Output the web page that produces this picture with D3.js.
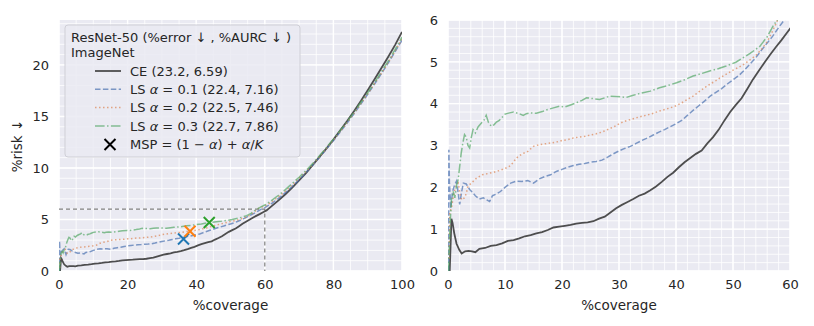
<!DOCTYPE html>
<html><head><meta charset="utf-8">
<script src="https://cdn.jsdelivr.net/npm/d3@7"></script>
<style>
body{margin:0;background:#fff;}
text{font-family:"DejaVu Sans",sans-serif;fill:#262626;}
</style></head>
<body>
<svg id="chart" width="814" height="326"></svg>
<script>
// ---------- DATA ----------
const seriesNames = ["CE (23.2, 6.59)", "LS α = 0.1 (22.4, 7.16)", "LS α = 0.2 (22.5, 7.46)", "LS α = 0.3 (22.7, 7.86)"];
const legendTitle = ["ResNet-50 (%error ↓ , %AURC ↓ )", "ImageNet"];
const leftXTicks = [0, 20, 40, 60, 80, 100];
const leftYTicks = [0, 5, 10, 15, 20];
const rightXTicks = [0, 10, 20, 30, 40, 50, 60];
const rightYTicks = [0, 1, 2, 3, 4, 5, 6];

const ceData = [[0.3,0],[0.45,0.6],[0.6,1.25],[0.8,1.15],[1.1,0.9],[1.5,0.65],[2.0,0.5],[2.4,0.42],[3,0.47],[3.6,0.48],[4.2,0.47],[4.8,0.45],[5.5,0.53],[6.5,0.55],[7.5,0.6],[8.5,0.62],[9.5,0.66],[10.5,0.72],[11.5,0.74],[12.5,0.78],[13.5,0.83],[14.5,0.86],[15.5,0.9],[16.5,0.93],[17.5,0.98],[18.5,1.04],[19.5,1.06],[20.5,1.08],[21.5,1.1],[22.5,1.13],[23.5,1.15],[24.5,1.16],[25.5,1.19],[26.5,1.25],[27.5,1.3],[28.5,1.4],[29.5,1.5],[30.5,1.58],[31.5,1.65],[32.5,1.72],[33.5,1.8],[34.5,1.85],[35.5,1.93],[36.5,2.02],[37.5,2.13],[38.5,2.25],[39.5,2.35],[40.5,2.48],[41.5,2.6],[42.5,2.7],[43.5,2.8],[44.5,2.88],[45.5,3.05],[46.5,3.2],[47.5,3.38],[48.5,3.6],[49.5,3.8],[50.5,3.97],[51.5,4.13],[52.5,4.35],[53.5,4.58],[54.5,4.78],[55.5,4.98],[56.5,5.17],[57.5,5.35],[58.5,5.52],[59.5,5.7],[60.5,5.88],[62,6.3],[64,6.85],[66,7.45],[68,8.1],[70,8.8],[72,9.5],[74,10.3],[76,11.1],[78,11.9],[80,12.75],[82,13.65],[84,14.55],[86,15.5],[88,16.5],[90,17.55],[92,18.6],[94,19.7],[96,20.8],[98,21.95],[100,23.2]];

const ls1Data = [[0.1,0],[0.15,2.9],[0.25,2.1],[0.5,1.5],[0.8,1.9],[1.2,2.07],[1.5,2.15],[1.8,1.85],[2.05,1.59],[2.4,1.9],[2.7,2.1],[3.2,2.08],[3.8,1.95],[4.3,1.88],[4.8,1.8],[5.5,1.72],[6.2,1.75],[6.8,1.7],[7.3,1.66],[7.8,1.8],[8.5,1.84],[9.2,1.9],[10,2.0],[11,2.1],[12,2.15],[13,2.14],[14,2.16],[15,2.1],[16,2.2],[17,2.26],[18,2.3],[19,2.38],[20,2.43],[21,2.48],[22,2.52],[23,2.55],[24,2.57],[25,2.6],[26,2.62],[27,2.65],[28,2.72],[29,2.8],[30,2.87],[31,2.93],[32,2.98],[33,3.05],[34,3.12],[35,3.18],[36,3.25],[37,3.32],[38,3.38],[39,3.45],[40,3.52],[41,3.6],[42,3.72],[43,3.84],[44,3.95],[45,4.06],[46,4.18],[47,4.27],[48,4.36],[49,4.47],[50,4.57],[51,4.67],[52,4.8],[53,4.95],[54,5.1],[55,5.28],[56,5.45],[57,5.62],[58,5.82],[59,6.0],[60,6.15],[62,6.55],[64,7.05],[66,7.6],[68,8.2],[70,8.85],[72,9.55],[74,10.3],[76,11.05],[78,11.85],[80,12.65],[82,13.5],[84,14.35],[86,15.25],[88,16.2],[90,17.15],[92,18.15],[94,19.15],[96,20.2],[98,21.3],[100,22.4]];

const ls2Data = [[0.2,0.3],[0.3,1.4],[0.6,1.5],[0.9,1.75],[1.2,1.95],[1.5,2.05],[1.8,2.1],[2.1,1.85],[2.4,1.7],[2.9,1.75],[3.2,1.85],[3.5,2.03],[4.1,2.1],[5,2.22],[6,2.3],[7,2.33],[8,2.36],[9,2.4],[10,2.45],[11,2.52],[12,2.7],[13,2.8],[14,2.86],[15,2.98],[16,3.02],[17,3.04],[18,3.06],[19,3.08],[20,3.12],[21,3.14],[22,3.18],[23,3.2],[24,3.22],[25,3.25],[26,3.28],[27,3.32],[28,3.38],[29,3.44],[30,3.52],[31,3.58],[32,3.62],[33,3.66],[34,3.7],[35,3.73],[36,3.77],[37,3.82],[38,3.86],[39,3.9],[40,3.95],[41,4.02],[42,4.1],[43,4.18],[44,4.28],[45,4.38],[46,4.47],[47,4.55],[48,4.64],[49,4.72],[50,4.8],[51,4.87],[52,4.95],[53,5.05],[54,5.15],[55,5.3],[56,5.48],[57,5.75],[58,6.05],[59,6.2],[60,6.3],[62,6.7],[64,7.2],[66,7.75],[68,8.35],[70,9.0],[72,9.65],[74,10.35],[76,11.1],[78,11.9],[80,12.7],[82,13.55],[84,14.4],[86,15.3],[88,16.25],[90,17.2],[92,18.2],[94,19.2],[96,20.25],[98,21.35],[100,22.5]];

const ls3Data = [[0.1,0],[0.2,0.45],[0.4,1.2],[0.6,1.7],[0.9,1.9],[1.2,1.75],[1.5,2.05],[1.8,2.2],[2.05,2.5],[2.3,2.8],[2.6,3.06],[2.9,3.26],[3.2,3.2],[3.5,3.0],[3.8,2.94],[4.1,3.2],[4.4,3.38],[4.8,3.3],[5.3,3.45],[5.86,3.54],[6.3,3.6],[6.7,3.72],[7.1,3.55],[7.6,3.46],[8.1,3.5],[8.5,3.56],[9,3.6],[9.4,3.66],[10,3.75],[10.8,3.78],[11.5,3.8],[12.5,3.76],[13.2,3.72],[13.75,3.76],[14.5,3.78],[15.5,3.77],[16.7,3.82],[17.5,3.86],[18.5,3.9],[19.6,3.94],[20.5,3.92],[21.5,3.97],[22.5,4.02],[23.5,4.08],[24.3,4.14],[25.5,4.12],[26.6,4.1],[27.5,4.14],[28.4,4.18],[29.5,4.17],[30.5,4.16],[31.3,4.15],[32.5,4.2],[33.5,4.24],[34.2,4.26],[35.5,4.3],[37.1,4.38],[38.5,4.43],[40.1,4.5],[41.5,4.57],[43,4.66],[44.5,4.72],[45.9,4.78],[47.5,4.84],[48.8,4.9],[50.5,4.99],[51.8,5.1],[53,5.2],[54.7,5.37],[56,5.6],[57,5.85],[58,6.05],[59,6.25],[60,6.4],[62,6.85],[64,7.35],[66,7.9],[68,8.5],[70,9.1],[72,9.75],[74,10.45],[76,11.2],[78,12.0],[80,12.8],[82,13.65],[84,14.5],[86,15.4],[88,16.35],[90,17.3],[92,18.3],[94,19.35],[96,20.4],[98,21.5],[100,22.7]];

// MSP markers (coverage, risk)
const mspPoints = [[36.3,3.1],[38.2,3.85],[43.8,4.7]];
const refLine = [60, 6]; // dashed guide: coverage 60, risk 6

// ---------- STYLE ----------
const seriesData = [ceData, ls1Data, ls2Data, ls3Data];
const lineColors = ["#444444", "#4c72b0", "#dd8452", "#55a868"];
const lineOpacity = [0.95, 0.7, 0.7, 0.7];
const lineWidth = [1.8, 1.5, 1.5, 1.5];
const lineDash = [null, "5.5,2.4", "1.5,2.5", "9.6,2.4,1.5,2.4"];
const mspColors = ["#1f77b4", "#ff7f0e", "#2ca02c"];
const tickFont = 13, labelFont = 13.5, legendFont = 13;

const svg = d3.select("#chart");
const bg = "#eaeaf2";

function panel(opts) {
  const {x0, x1, y0, y1, xDom, yDom, xTicks, yTicks, xMinor, yMinor, id} = opts;
  const x = d3.scaleLinear().domain(xDom).range([x0, x1]);
  const y = d3.scaleLinear().domain(yDom).range([y1, y0]);
  const g = svg.append("g");
  g.append("rect").attr("x", x0).attr("y", y0).attr("width", x1 - x0).attr("height", y1 - y0).attr("fill", bg);
  g.append("clipPath").attr("id", id).append("rect").attr("x", x0).attr("y", y0).attr("width", x1 - x0).attr("height", y1 - y0);
  const xm = d3.range(xDom[0], xDom[1] + 1e-9, xMinor);
  const ym = d3.range(yDom[0], yDom[1] + 1e-9, yMinor);
  g.selectAll(".xm").data(xm).join("line").attr("x1", d => x(d)).attr("x2", d => x(d)).attr("y1", y0).attr("y2", y1).attr("stroke", "#fff").attr("stroke-width", 0.8);
  g.selectAll(".ym").data(ym).join("line").attr("y1", d => y(d)).attr("y2", d => y(d)).attr("x1", x0).attr("x2", x1).attr("stroke", "#fff").attr("stroke-width", 0.8);
  g.selectAll(".xM").data(xTicks).join("line").attr("x1", d => x(d)).attr("x2", d => x(d)).attr("y1", y0).attr("y2", y1).attr("stroke", "#fff").attr("stroke-width", 1.4);
  g.selectAll(".yM").data(yTicks).join("line").attr("y1", d => y(d)).attr("y2", d => y(d)).attr("x1", x0).attr("x2", x1).attr("stroke", "#fff").attr("stroke-width", 1.4);
  const xa = svg.append("g").attr("transform", `translate(0,${y1})`)
    .call(d3.axisBottom(x).tickValues(xTicks).tickSize(0).tickPadding(9).tickFormat(d3.format("d")));
  xa.select(".domain").remove();
  xa.selectAll("text").attr("font-size", tickFont).attr("font-family", "DejaVu Sans");
  const ya = svg.append("g").attr("transform", `translate(${x0},0)`)
    .call(d3.axisLeft(y).tickValues(yTicks).tickSize(0).tickPadding(10).tickFormat(d3.format("d")));
  ya.select(".domain").remove();
  ya.selectAll("text").attr("font-size", tickFont).attr("font-family", "DejaVu Sans");
  svg.append("text").attr("x", (x0 + x1) / 2).attr("y", 310).attr("text-anchor", "middle").attr("font-size", labelFont).text("%coverage");
  return {x, y, g};
}

const L = panel({x0: 59, x1: 402, y0: 20, y1: 271, xDom: [0, 100], yDom: [0, 24.36], xTicks: leftXTicks, yTicks: leftYTicks, xMinor: 5, yMinor: 1, id: "clipL"});
const R = panel({x0: 448, x1: 790, y0: 20, y1: 271, xDom: [0, 60], yDom: [0, 6], xTicks: rightXTicks, yTicks: rightYTicks, xMinor: 2, yMinor: 0.2, id: "clipR"});

function drawLines(P, clip) {
  const line = d3.line().x(d => P.x(d[0])).y(d => P.y(d[1]));
  const lg = svg.append("g").attr("clip-path", `url(#${clip})`);
  seriesData.forEach((data, i) => {
    lg.append("path").datum(data).attr("d", line).attr("fill", "none")
      .attr("stroke", lineColors[i]).attr("stroke-opacity", lineOpacity[i])
      .attr("stroke-width", lineWidth[i]).attr("stroke-dasharray", lineDash[i]);
  });
  return lg;
}

svg.append("path").attr("d", `M${L.x(0)},${L.y(refLine[1])}H${L.x(refLine[0])}V${L.y(0)}`)
  .attr("fill", "none").attr("stroke", "#808080").attr("stroke-width", 1.2).attr("stroke-dasharray", "4,3");
drawLines(L, "clipL");
drawLines(R, "clipR");

const xs = 5.5;
mspPoints.forEach((p, i) => {
  const cx = L.x(p[0]), cy = L.y(p[1]);
  svg.append("path").attr("d", `M${cx - xs},${cy - xs}L${cx + xs},${cy + xs}M${cx - xs},${cy + xs}L${cx + xs},${cy - xs}`)
    .attr("stroke", mspColors[i]).attr("stroke-width", 2).attr("fill", "none");
});

svg.append("text").attr("transform", "translate(22,146) rotate(-90)").attr("text-anchor", "middle")
  .attr("font-size", labelFont).text("%risk ↓");

const leg = svg.append("g");
leg.append("rect").attr("x", 65).attr("y", 25).attr("width", 235).attr("height", 132).attr("rx", 3)
  .attr("fill", "#eaeaf2").attr("fill-opacity", 0.85).attr("stroke", "#cfcfd6").attr("stroke-width", 1);
leg.append("text").attr("x", 71).attr("y", 41.5).attr("font-size", legendFont).text(legendTitle[0]);
leg.append("text").attr("x", 71).attr("y", 56.5).attr("font-size", legendFont).text(legendTitle[1]);
const rowY = [71, 89.3, 107.6, 125.9, 144.5];
function richText(y, str) {
  const el = leg.append("text").attr("x", 130).attr("y", y + 4.7).attr("font-size", legendFont);
  str.split(/(α|K)/).forEach(p => { if (!p) return; const s = el.append("tspan").text(p); if (p === "α" || p === "K") s.attr("font-style", "italic"); });
}
seriesNames.forEach((n, i) => {
  leg.append("line").attr("x1", 95).attr("x2", 121).attr("y1", rowY[i]).attr("y2", rowY[i])
    .attr("stroke", lineColors[i]).attr("stroke-opacity", lineOpacity[i]).attr("stroke-width", lineWidth[i]).attr("stroke-dasharray", lineDash[i]);
  richText(rowY[i], n);
});
{
  const cx = 110, cy = rowY[4];
  leg.append("path").attr("d", `M${cx - xs},${cy - xs}L${cx + xs},${cy + xs}M${cx - xs},${cy + xs}L${cx + xs},${cy - xs}`)
    .attr("stroke", "#000").attr("stroke-width", 2);
  richText(rowY[4], "MSP = (1 − α) + α/K");
}
</script>
</body></html>
